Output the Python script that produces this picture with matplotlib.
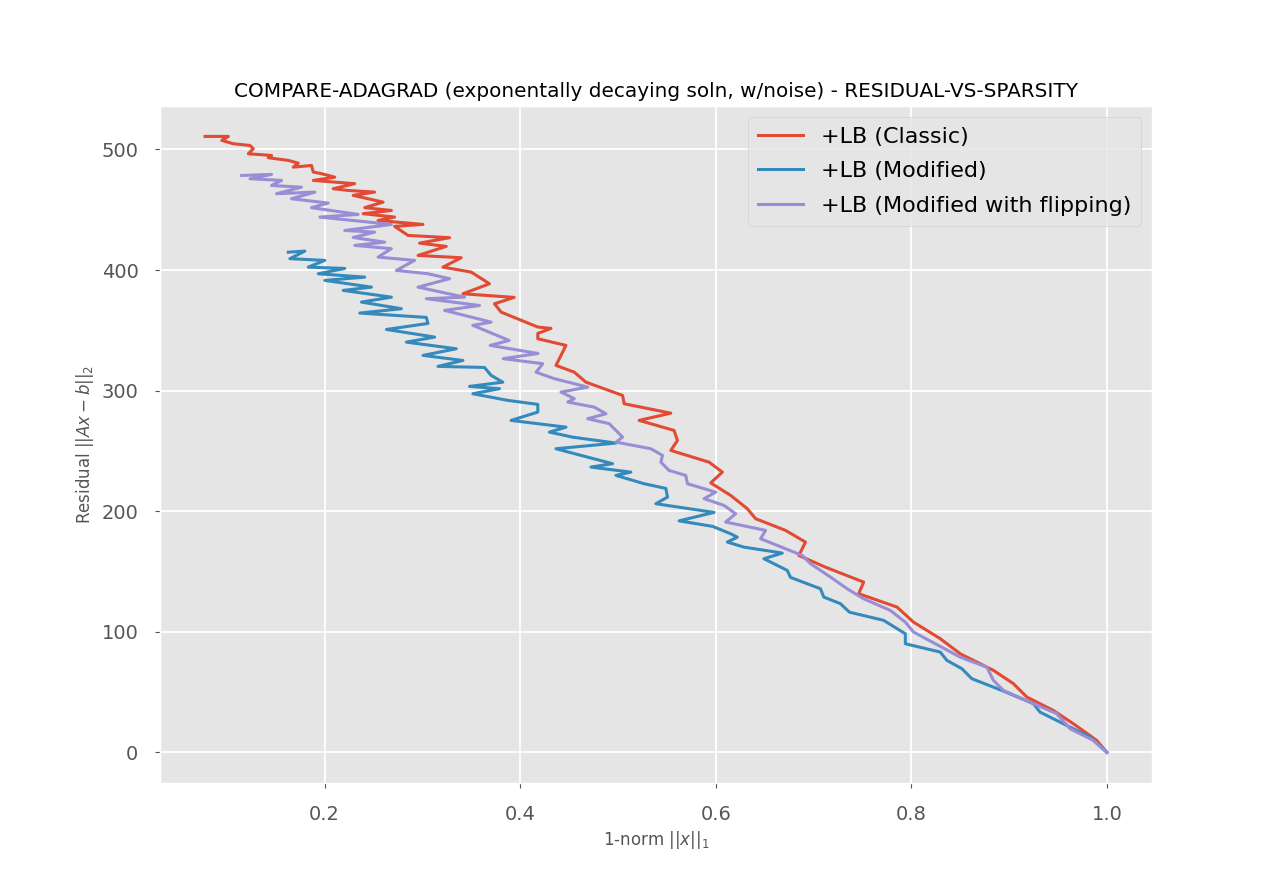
import matplotlib
matplotlib.use("Agg")
import matplotlib.pyplot as plt

plt.style.use("ggplot")

title = "COMPARE-ADAGRAD (exponentally decaying soln, w/noise) - RESIDUAL-VS-SPARSITY"
xlabel = r"1-norm $||x||_1$"
ylabel = r"Residual $||Ax-b||_2$"
labels = ["+LB (Classic)", "+LB (Modified)", "+LB (Modified with flipping)"]

classic_x = [0.0779, 0.1017, 0.0949, 0.1068, 0.1238, 0.1272, 0.1221, 0.1459, 0.1426, 0.163,
             0.1732, 0.1681, 0.1867, 0.1885, 0.1969, 0.2105, 0.1885, 0.2309, 0.2089, 0.2242,
             0.2513, 0.2293, 0.2599, 0.2411, 0.2684, 0.2395, 0.2717, 0.2548, 0.3007, 0.2717,
             0.2854, 0.3279, 0.2972, 0.3245, 0.2956, 0.3398, 0.3211, 0.35, 0.3687, 0.3415,
             0.3939, 0.3738, 0.3806, 0.4181, 0.4316, 0.4181, 0.4181, 0.4469, 0.4367, 0.4554,
             0.4673, 0.5048, 0.5064, 0.5541, 0.5217, 0.5574, 0.5609, 0.5541, 0.5932, 0.6068,
             0.5949, 0.6153, 0.6323, 0.6408, 0.6714, 0.6918, 0.685, 0.7122, 0.7513, 0.7462,
             0.7854, 0.8023, 0.8296, 0.85, 0.884, 0.9044, 0.9181, 0.9452, 0.9656, 0.9895, 1.0]
classic_y = [510.8, 510.8, 507.5, 504.7, 503.3, 500.6, 496.4, 495.0, 493.1, 490.9,
             488.6, 485.3, 486.7, 481.2, 479.9, 477.0, 474.3, 471.6, 467.4, 466.0,
             464.6, 461.9, 456.3, 451.7, 449.4, 446.7, 443.9, 441.1, 437.8, 436.2,
             428.7, 426.8, 422.3, 419.6, 412.1, 410.2, 402.4, 398.3, 388.6, 380.3,
             377.3, 372.0, 365.1, 352.7, 351.6, 347.4, 343.0, 337.5, 320.9, 315.3,
             307.0, 296.0, 289.1, 281.3, 275.3, 267.0, 258.7, 250.4, 240.7, 232.4,
             223.5, 213.1, 202.1, 193.8, 184.1, 174.4, 163.3, 153.6, 141.2, 131.6,
             120.5, 108.0, 94.3, 81.8, 68.0, 57.0, 45.9, 34.8, 23.8, 10.0, 0.0]

modified_x = [0.163, 0.1799, 0.1646, 0.2003, 0.1834, 0.2207, 0.1936, 0.2411, 0.2003, 0.248,
              0.2191, 0.2684, 0.2378, 0.2786, 0.236, 0.3041, 0.3058, 0.2633, 0.3126, 0.2837,
              0.3347, 0.3007, 0.3415, 0.316, 0.3636, 0.3704, 0.3823, 0.3483, 0.3789, 0.3517,
              0.3874, 0.4181, 0.4181, 0.3908, 0.4469, 0.4299, 0.4538, 0.498, 0.4367, 0.4622,
              0.4946, 0.4724, 0.5133, 0.498, 0.5268, 0.549, 0.5507, 0.5388, 0.5983, 0.5626,
              0.5969, 0.6153, 0.6221, 0.6119, 0.6289, 0.6681, 0.6493, 0.6732, 0.6765, 0.7071,
              0.7105, 0.7276, 0.7367, 0.7717, 0.7939, 0.7939, 0.8296, 0.8364, 0.8517, 0.8619,
              0.8926, 0.9248, 0.9316, 0.9452, 0.9622, 0.9827, 1.0]
modified_y = [414.8, 415.7, 409.4, 408.0, 402.4, 401.3, 396.9, 394.1, 391.4, 385.8,
              383.1, 377.5, 373.4, 367.9, 364.3, 360.7, 355.7, 350.7, 344.4, 340.2,
              334.7, 329.2, 325.0, 320.1, 319.2, 312.6, 307.0, 303.5, 301.6, 297.4,
              291.9, 288.6, 282.2, 275.3, 269.7, 265.6, 261.4, 256.5, 251.8, 246.3,
              239.4, 236.6, 232.4, 229.7, 222.8, 218.9, 211.7, 206.2, 199.0, 192.0,
              187.4, 181.3, 178.5, 174.4, 170.2, 165.3, 160.6, 150.9, 145.1, 135.7,
              128.8, 123.3, 116.3, 109.5, 98.4, 90.1, 83.2, 76.3, 69.4, 61.1,
              51.4, 40.4, 33.4, 27.9, 21.0, 12.7, 0.0]

flipping_x = [0.1153, 0.1459, 0.1238, 0.1561, 0.1459, 0.1765, 0.151, 0.1901, 0.1663, 0.2038,
              0.1867, 0.2344, 0.1952, 0.2684, 0.2207, 0.2513, 0.2293, 0.2615, 0.2309, 0.2684,
              0.2548, 0.2921, 0.2735, 0.3058, 0.3279, 0.2956, 0.3432, 0.3041, 0.3585, 0.3228,
              0.3704, 0.3517, 0.3888, 0.3694, 0.4184, 0.3827, 0.4232, 0.4163, 0.435, 0.4691,
              0.4418, 0.4554, 0.4487, 0.4758, 0.4878, 0.4691, 0.4911, 0.5048, 0.498, 0.5337,
              0.5456, 0.5439, 0.5523, 0.5694, 0.5711, 0.6, 0.5881, 0.6085, 0.6204, 0.6102,
              0.651, 0.6459, 0.6885, 0.6969, 0.7173, 0.7344, 0.7513, 0.7786, 0.7939, 0.8023,
              0.85, 0.8772, 0.884, 0.8942, 0.9214, 0.9487, 0.9622, 0.986, 1.0]
flipping_y = [478.4, 479.3, 475.7, 474.3, 470.1, 468.7, 463.3, 464.6, 459.1, 455.5,
              451.7, 446.1, 443.9, 437.8, 432.8, 431.4, 427.0, 423.1, 420.4, 417.7,
              410.7, 408.0, 399.7, 396.9, 392.8, 385.8, 377.5, 376.2, 370.6, 366.5,
              356.8, 354.1, 341.6, 337.5, 330.8, 326.5, 322.3, 315.3, 309.9, 302.9,
              298.8, 293.3, 290.5, 286.3, 280.8, 276.7, 272.6, 261.4, 257.3, 251.8,
              246.3, 240.7, 233.8, 229.7, 222.8, 215.8, 210.4, 204.8, 197.9, 191.0,
              184.1, 177.2, 163.3, 156.5, 145.4, 135.7, 127.4, 117.7, 108.0, 99.8,
              79.0, 70.7, 59.7, 51.4, 41.7, 32.1, 19.7, 10.0, 0.0]

fig, ax = plt.subplots(figsize=(12.8, 8.8), dpi=100)
ax.plot(classic_x, classic_y, lw=2.2, label=labels[0])
ax.plot(modified_x, modified_y, lw=2.2, label=labels[1])
ax.plot(flipping_x, flipping_y, lw=2.2, label=labels[2])

ax.set_title(title, fontsize=14.4)
ax.set_xlabel(xlabel, fontsize=12)
ax.set_ylabel(ylabel, fontsize=12)
ax.tick_params(labelsize=14, pad=12)
ax.grid(True, color="white", linewidth=1.3)
ax.set_xticks([0.2, 0.4, 0.6, 0.8, 1.0])
ax.set_yticks([0, 100, 200, 300, 400, 500])
ax.legend(loc="upper right", fontsize=16, labelspacing=0.65, borderpad=0.45)

fig.savefig("out.png", dpi=100)
